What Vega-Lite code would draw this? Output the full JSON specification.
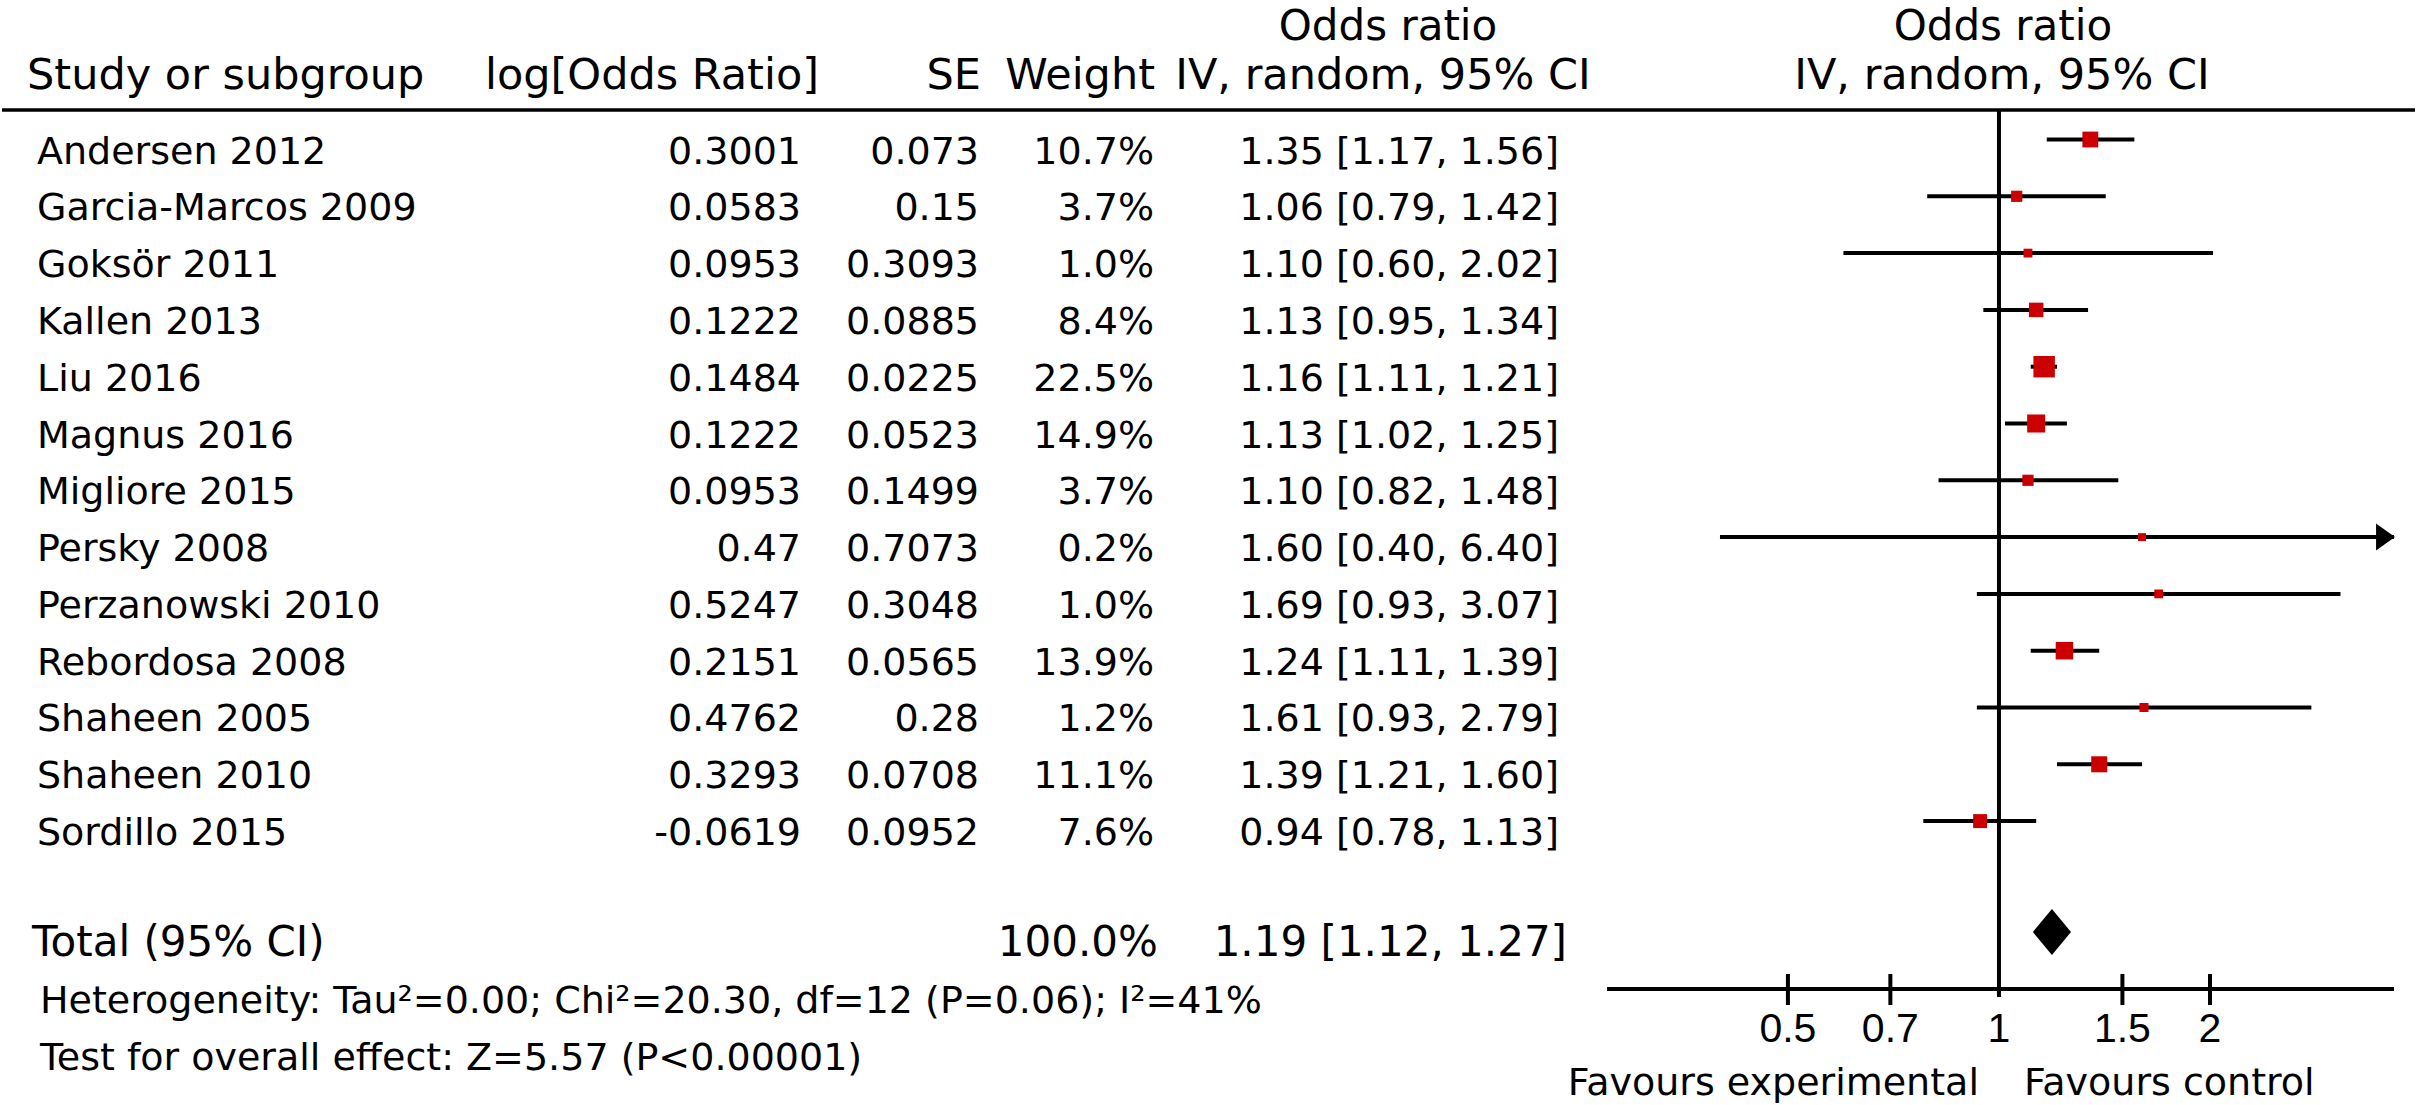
{
  "$schema": "https://vega.github.io/schema/vega-lite/v6.json",
  "width": 2417,
  "height": 1105,
  "autosize": {"type": "fit", "contains": "padding"},
  "padding": 0,
  "background": "white",
  "config": {
    "view": {"stroke": null},
    "text": {"font": "DejaVu Sans", "color": "black", "baseline": "middle"},
    "rule": {"color": "black"}
  },
  "datasets": {
    "studies": [
      {"row": 1, "Study": "Andersen 2012", "logOR": "0.3001", "SE": "0.073", "Weight": "10.7%", "CI": "1.35 [1.17, 1.56]", "w": 10.7, "or": 1.35, "lo": 1.17, "hi": 1.56},
      {"row": 2, "Study": "Garcia-Marcos 2009", "logOR": "0.0583", "SE": "0.15", "Weight": "3.7%", "CI": "1.06 [0.79, 1.42]", "w": 3.7, "or": 1.06, "lo": 0.79, "hi": 1.42},
      {"row": 3, "Study": "Goksör 2011", "logOR": "0.0953", "SE": "0.3093", "Weight": "1.0%", "CI": "1.10 [0.60, 2.02]", "w": 1.0, "or": 1.10, "lo": 0.60, "hi": 2.02},
      {"row": 4, "Study": "Kallen 2013", "logOR": "0.1222", "SE": "0.0885", "Weight": "8.4%", "CI": "1.13 [0.95, 1.34]", "w": 8.4, "or": 1.13, "lo": 0.95, "hi": 1.34},
      {"row": 5, "Study": "Liu 2016", "logOR": "0.1484", "SE": "0.0225", "Weight": "22.5%", "CI": "1.16 [1.11, 1.21]", "w": 22.5, "or": 1.16, "lo": 1.11, "hi": 1.21},
      {"row": 6, "Study": "Magnus 2016", "logOR": "0.1222", "SE": "0.0523", "Weight": "14.9%", "CI": "1.13 [1.02, 1.25]", "w": 14.9, "or": 1.13, "lo": 1.02, "hi": 1.25},
      {"row": 7, "Study": "Migliore 2015", "logOR": "0.0953", "SE": "0.1499", "Weight": "3.7%", "CI": "1.10 [0.82, 1.48]", "w": 3.7, "or": 1.10, "lo": 0.82, "hi": 1.48},
      {"row": 8, "Study": "Persky 2008", "logOR": "0.47", "SE": "0.7073", "Weight": "0.2%", "CI": "1.60 [0.40, 6.40]", "w": 0.2, "or": 1.60, "lo": 0.40, "hi": 6.40},
      {"row": 9, "Study": "Perzanowski 2010", "logOR": "0.5247", "SE": "0.3048", "Weight": "1.0%", "CI": "1.69 [0.93, 3.07]", "w": 1.0, "or": 1.69, "lo": 0.93, "hi": 3.07},
      {"row": 10, "Study": "Rebordosa 2008", "logOR": "0.2151", "SE": "0.0565", "Weight": "13.9%", "CI": "1.24 [1.11, 1.39]", "w": 13.9, "or": 1.24, "lo": 1.11, "hi": 1.39},
      {"row": 11, "Study": "Shaheen 2005", "logOR": "0.4762", "SE": "0.28", "Weight": "1.2%", "CI": "1.61 [0.93, 2.79]", "w": 1.2, "or": 1.61, "lo": 0.93, "hi": 2.79},
      {"row": 12, "Study": "Shaheen 2010", "logOR": "0.3293", "SE": "0.0708", "Weight": "11.1%", "CI": "1.39 [1.21, 1.60]", "w": 11.1, "or": 1.39, "lo": 1.21, "hi": 1.60},
      {"row": 13, "Study": "Sordillo 2015", "logOR": "-0.0619", "SE": "0.0952", "Weight": "7.6%", "CI": "0.94 [0.78, 1.13]", "w": 7.6, "or": 0.94, "lo": 0.78, "hi": 1.13}
    ],
    "total": [
      {"row": 15, "Study": "Total (95% CI)", "Weight": "100.0%", "CI": "1.19 [1.12, 1.27]", "or": 1.19, "lo": 1.12, "hi": 1.27}
    ],
    "notes": [
      {"row": 16, "txt": "Heterogeneity: Tau²=0.00; Chi²=20.30, df=12 (P=0.06); I²=41%"},
      {"row": 17, "txt": "Test for overall effect: Z=5.57 (P<0.00001)"}
    ],
    "ticks": [
      {"v": 0.5, "label": "0.5"},
      {"v": 0.7, "label": "0.7"},
      {"v": 1, "label": "1"},
      {"v": 1.5, "label": "1.5"},
      {"v": 2, "label": "2"}
    ],
    "headers": [
      {"label": "Study or subgroup", "key": "Study", "line": 2},
      {"label": "log[Odds Ratio]", "key": "logOR", "line": 2},
      {"label": "SE", "key": "SE", "line": 2},
      {"label": "Weight", "key": "Weight", "line": 2},
      {"label": "Odds ratio", "key": "CI", "line": 1},
      {"label": "IV, random, 95% CI", "key": "CI", "line": 2},
      {"label": "Odds ratio", "key": "forest", "line": 1},
      {"label": "IV, random, 95% CI", "key": "forest", "line": 2}
    ],
    "favours": [
      {"label": "Favours experimental", "side": "left"},
      {"label": "Favours control", "side": "right"}
    ]
  },
  "resolve": {"scale": {"x": "independent"}},
  "layer": [
    {
      "data": {"values": [{}]},
      "mark": {"type": "rule", "strokeWidth": 3.5, "color": "black"},
      "encoding": {
        "y": {"datum": 0.2518, "type": "quantitative", "scale": {"domain": [-1.6849, 17.7694], "reverse": true, "zero": false, "nice": false}, "axis": null}
      }
    },
    {
      "layer": [
        {
          "data": {"values": [{}]},
          "mark": {"type": "rule", "strokeWidth": 4, "color": "black"},
          "encoding": {
            "x": {"datum": 1, "type": "quantitative", "scale": {"type": "log", "domain": [0.276, 3.66], "range": [1605, 2392], "clamp": true, "nice": false, "zero": false}, "axis": null},
            "y": {"datum": 0.2518, "type": "quantitative", "scale": {"domain": [-1.6849, 17.7694], "reverse": true, "zero": false, "nice": false}, "axis": null},
            "y2": {"datum": 15.868}
          }
        },
        {
          "data": {"values": [{}]},
          "mark": {"type": "rule", "strokeWidth": 4, "color": "black"},
          "encoding": {
            "x": {"datum": 0.276, "type": "quantitative", "scale": {"type": "log", "domain": [0.276, 3.66], "range": [1605, 2392], "clamp": true, "nice": false, "zero": false}, "axis": null},
            "x2": {"datum": 3.66},
            "y": {"datum": 15.727, "type": "quantitative", "axis": null}
          }
        },
        {
          "data": {"name": "ticks"},
          "transform": [{"filter": "datum.v != 1"}],
          "mark": {"type": "rule", "strokeWidth": 4, "color": "black"},
          "encoding": {
            "x": {"field": "v", "type": "quantitative", "axis": null},
            "y": {"datum": 15.463, "type": "quantitative", "axis": null},
            "y2": {"datum": 16.009}
          }
        },
        {
          "data": {"name": "ticks"},
          "mark": {"type": "text", "font": "Liberation Sans", "fontSize": 41, "align": "center", "baseline": "middle", "color": "black"},
          "encoding": {
            "x": {"field": "v", "type": "quantitative", "axis": null},
            "y": {"datum": 16.456, "type": "quantitative", "axis": null},
            "text": {"field": "label"}
          }
        },
        {
          "data": {"name": "favours"},
          "transform": [{"filter": "datum.side == 'left'"}],
          "mark": {"type": "text", "font": "DejaVu Sans", "fontSize": 38, "align": "right", "baseline": "middle", "dx": -20, "color": "black"},
          "encoding": {
            "x": {"datum": 1, "type": "quantitative", "axis": null},
            "y": {"datum": 17.391, "type": "quantitative", "axis": null},
            "text": {"field": "label"}
          }
        },
        {
          "data": {"name": "favours"},
          "transform": [{"filter": "datum.side == 'right'"}],
          "mark": {"type": "text", "font": "DejaVu Sans", "fontSize": 38, "align": "left", "baseline": "middle", "dx": 25, "color": "black"},
          "encoding": {
            "x": {"datum": 1, "type": "quantitative", "axis": null},
            "y": {"datum": 17.391, "type": "quantitative", "axis": null},
            "text": {"field": "label"}
          }
        },
        {
          "data": {"name": "headers"},
          "transform": [{"filter": "datum.key == 'forest' && datum.line == 1"}],
          "mark": {"type": "text", "font": "DejaVu Sans", "fontSize": 42, "align": "center", "baseline": "middle", "dx": 4, "color": "black"},
          "encoding": {
            "x": {"datum": 1, "type": "quantitative", "axis": null},
            "y": {"datum": -1.215, "type": "quantitative", "axis": null},
            "text": {"field": "label"}
          }
        },
        {
          "data": {"name": "headers"},
          "transform": [{"filter": "datum.key == 'forest' && datum.line == 2"}],
          "mark": {"type": "text", "font": "DejaVu Sans", "fontSize": 43, "align": "center", "baseline": "middle", "dx": 3, "color": "black"},
          "encoding": {
            "x": {"datum": 1, "type": "quantitative", "axis": null},
            "y": {"datum": -0.347, "type": "quantitative", "axis": null},
            "text": {"field": "label"}
          }
        },
        {
          "data": {"name": "studies"},
          "mark": {"type": "rule", "strokeWidth": 4, "color": "black", "yOffset": -13},
          "encoding": {
            "x": {"field": "lo", "type": "quantitative", "axis": null},
            "x2": {"field": "hi"},
            "y": {"field": "row", "type": "quantitative", "axis": null}
          }
        },
        {
          "data": {"name": "studies"},
          "mark": {"type": "point", "shape": "square", "filled": true, "opacity": 1, "color": "#cc0000", "strokeWidth": 0, "yOffset": -13},
          "encoding": {
            "x": {"field": "or", "type": "quantitative", "axis": null},
            "y": {"field": "row", "type": "quantitative", "axis": null},
            "size": {"field": "w", "type": "quantitative", "scale": {"domain": [0, 22.5], "range": [60, 460], "zero": false}, "legend": null}
          }
        },
        {
          "data": {"name": "studies"},
          "transform": [{"filter": "datum.hi > 3.66"}],
          "mark": {"type": "point", "shape": "M-0.7,-1L0.7,0L-0.7,1Z", "size": 729, "filled": true, "opacity": 1, "color": "black", "strokeWidth": 0, "xOffset": -8.5, "yOffset": -13},
          "encoding": {
            "x": {"field": "hi", "type": "quantitative", "axis": null},
            "y": {"field": "row", "type": "quantitative", "axis": null}
          }
        },
        {
          "data": {"name": "total"},
          "mark": {"type": "point", "shape": "M-0.83,0L0,-1L0.83,0L0,1Z", "size": 2116, "filled": true, "opacity": 1, "color": "black", "strokeWidth": 0, "yOffset": -15.7},
          "encoding": {
            "x": {"field": "or", "type": "quantitative", "axis": null},
            "y": {"field": "row", "type": "quantitative", "axis": null}
          }
        }
      ]
    },
    {
      "layer": [
        {
          "data": {"name": "headers"},
          "transform": [{"filter": "datum.key == 'Study'"}],
          "mark": {"type": "text", "fontSize": 43, "align": "left", "baseline": "middle", "dx": -10, "color": "black"},
          "encoding": {
            "x": {"datum": "Study", "type": "nominal", "scale": {"type": "point", "domain": ["Study"], "range": [35, 35]}, "axis": null},
            "y": {"datum": -0.347, "type": "quantitative", "axis": null},
            "text": {"field": "label"}
          }
        },
        {
          "data": {"name": "studies"},
          "mark": {"type": "text", "fontSize": 38, "align": "left", "baseline": "middle", "color": "black"},
          "encoding": {
            "x": {"datum": "Study", "type": "nominal", "axis": null},
            "y": {"field": "row", "type": "quantitative", "axis": null},
            "text": {"field": "Study"}
          }
        },
        {
          "data": {"name": "total"},
          "mark": {"type": "text", "fontSize": 42, "align": "left", "baseline": "middle", "dx": -5, "yOffset": -5, "color": "black"},
          "encoding": {
            "x": {"datum": "Study", "type": "nominal", "axis": null},
            "y": {"field": "row", "type": "quantitative", "axis": null},
            "text": {"field": "Study"}
          }
        },
        {
          "data": {"name": "notes"},
          "mark": {"type": "text", "fontSize": 38, "align": "left", "baseline": "middle", "dx": 3, "yOffset": -2, "color": "black"},
          "encoding": {
            "x": {"datum": "Study", "type": "nominal", "axis": null},
            "y": {"field": "row", "type": "quantitative", "axis": null},
            "text": {"field": "txt"}
          }
        }
      ]
    },
    {
      "layer": [
        {
          "data": {"name": "headers"},
          "transform": [{"filter": "datum.key == 'logOR'"}],
          "mark": {"type": "text", "fontSize": 43, "align": "right", "baseline": "middle", "dx": 18, "color": "black"},
          "encoding": {
            "x": {"datum": "logOR", "type": "nominal", "scale": {"type": "point", "domain": ["logOR"], "range": [799, 799]}, "axis": null},
            "y": {"datum": -0.347, "type": "quantitative", "axis": null},
            "text": {"field": "label"}
          }
        },
        {
          "data": {"name": "studies"},
          "mark": {"type": "text", "fontSize": 38, "align": "right", "baseline": "middle", "color": "black"},
          "encoding": {
            "x": {"datum": "logOR", "type": "nominal", "axis": null},
            "y": {"field": "row", "type": "quantitative", "axis": null},
            "text": {"field": "logOR"}
          }
        }
      ]
    },
    {
      "layer": [
        {
          "data": {"name": "headers"},
          "transform": [{"filter": "datum.key == 'SE'"}],
          "mark": {"type": "text", "fontSize": 43, "align": "right", "baseline": "middle", "dx": 2, "color": "black"},
          "encoding": {
            "x": {"datum": "SE", "type": "nominal", "scale": {"type": "point", "domain": ["SE"], "range": [977, 977]}, "axis": null},
            "y": {"datum": -0.347, "type": "quantitative", "axis": null},
            "text": {"field": "label"}
          }
        },
        {
          "data": {"name": "studies"},
          "mark": {"type": "text", "fontSize": 38, "align": "right", "baseline": "middle", "color": "black"},
          "encoding": {
            "x": {"datum": "SE", "type": "nominal", "axis": null},
            "y": {"field": "row", "type": "quantitative", "axis": null},
            "text": {"field": "SE"}
          }
        }
      ]
    },
    {
      "layer": [
        {
          "data": {"name": "headers"},
          "transform": [{"filter": "datum.key == 'Weight'"}],
          "mark": {"type": "text", "fontSize": 43, "align": "right", "baseline": "middle", "dx": 1, "color": "black"},
          "encoding": {
            "x": {"datum": "Weight", "type": "nominal", "scale": {"type": "point", "domain": ["Weight"], "range": [1152, 1152]}, "axis": null},
            "y": {"datum": -0.347, "type": "quantitative", "axis": null},
            "text": {"field": "label"}
          }
        },
        {
          "data": {"name": "studies"},
          "mark": {"type": "text", "fontSize": 38, "align": "right", "baseline": "middle", "color": "black"},
          "encoding": {
            "x": {"datum": "Weight", "type": "nominal", "axis": null},
            "y": {"field": "row", "type": "quantitative", "axis": null},
            "text": {"field": "Weight"}
          }
        },
        {
          "data": {"name": "total"},
          "mark": {"type": "text", "fontSize": 42, "align": "right", "baseline": "middle", "dx": 4, "yOffset": -5, "color": "black"},
          "encoding": {
            "x": {"datum": "Weight", "type": "nominal", "axis": null},
            "y": {"field": "row", "type": "quantitative", "axis": null},
            "text": {"field": "Weight"}
          }
        }
      ]
    },
    {
      "layer": [
        {
          "data": {"name": "headers"},
          "transform": [{"filter": "datum.key == 'CI' && datum.line == 1"}],
          "mark": {"type": "text", "fontSize": 42, "align": "center", "baseline": "middle", "dx": -171, "color": "black"},
          "encoding": {
            "x": {"datum": "CI", "type": "nominal", "scale": {"type": "point", "domain": ["CI"], "range": [1557, 1557]}, "axis": null},
            "y": {"datum": -1.215, "type": "quantitative", "axis": null},
            "text": {"field": "label"}
          }
        },
        {
          "data": {"name": "headers"},
          "transform": [{"filter": "datum.key == 'CI' && datum.line == 2"}],
          "mark": {"type": "text", "fontSize": 43, "align": "center", "baseline": "middle", "dx": -176, "color": "black"},
          "encoding": {
            "x": {"datum": "CI", "type": "nominal", "axis": null},
            "y": {"datum": -0.347, "type": "quantitative", "axis": null},
            "text": {"field": "label"}
          }
        },
        {
          "data": {"name": "studies"},
          "mark": {"type": "text", "fontSize": 38, "align": "right", "baseline": "middle", "color": "black"},
          "encoding": {
            "x": {"datum": "CI", "type": "nominal", "axis": null},
            "y": {"field": "row", "type": "quantitative", "axis": null},
            "text": {"field": "CI"}
          }
        },
        {
          "data": {"name": "total"},
          "mark": {"type": "text", "fontSize": 42, "align": "right", "baseline": "middle", "dx": 8, "yOffset": -5, "color": "black"},
          "encoding": {
            "x": {"datum": "CI", "type": "nominal", "axis": null},
            "y": {"field": "row", "type": "quantitative", "axis": null},
            "text": {"field": "CI"}
          }
        }
      ]
    }
  ]
}
